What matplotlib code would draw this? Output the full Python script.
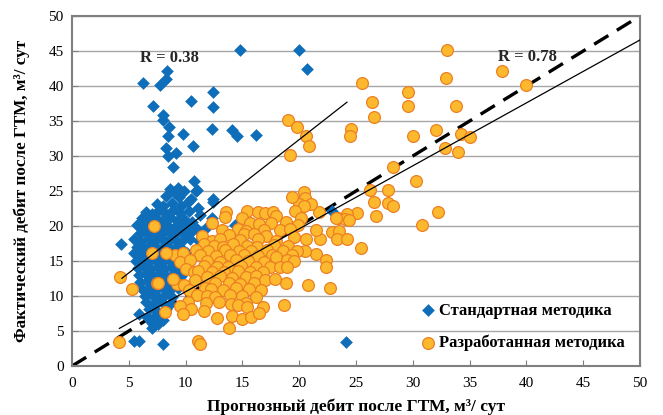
import numpy as np
import matplotlib
matplotlib.use('Agg')
import matplotlib.pyplot as plt

plt.rcParams['font.family'] = ['Liberation Serif', 'DejaVu Serif']

# "Стандартная методика" points (predicted, actual)
std_outliers = [(6.28,40.5),(7.75,40.1),(8.27,41.0),(8.39,42.2),(7.1,37.1),(8.04,35.8),(7.98,35.1),
                (8.54,34.1),(8.48,32.8),(9.8,33.1),(10.45,37.8),(12.44,39.1),(12.41,37.0),(12.35,33.8),
                (14.06,33.7),(14.55,32.8),(16.2,33.0),(14.79,45.1),(20.0,45.1),(20.66,42.4),(8.27,31.2),
                (9.15,30.5),(8.42,30.0),(10.68,31.5),(8.86,28.4),(22.9,22.1),(24.1,3.4),(14.35,20.1)]
std_core = [(8.6,25.3),(9.3,25.4),(9.9,25.0),(10.9,25.0),(10.7,26.5),(8.3,24.3),(9.4,24.2),(10.5,23.9),
            (12.4,23.8),(9.0,24.8),(11.0,25.1),(7.5,23.1),(8.0,22.8),(8.8,23.3),(9.6,22.9),(10.2,23.4),
            (11.1,22.6),(12.44,23.4),(6.5,22.0),(7.0,21.7),(7.6,22.2),(8.2,21.9),(8.9,22.3),(9.5,21.8),
            (10.3,22.1),(11.3,21.6),(6.2,21.1),(6.8,20.8),(7.4,21.2),(8.0,20.9),(8.6,21.3),(9.2,20.7),
            (9.9,21.0),(10.6,20.6),(12.3,21.1),(5.69,20.1),(6.3,19.9),(6.9,20.2),(7.8,19.8),(8.4,20.1),
            (9.0,19.7),(9.6,20.2),(10.2,19.9),(11.0,19.6),(11.86,19.9),(6.0,19.0),(6.6,18.8),(7.1,19.2),
            (7.7,18.9),(8.2,19.3),(8.8,18.7),(9.3,19.1),(9.9,18.8),(10.5,19.2),(5.5,18.1),(6.1,17.9),
            (6.7,18.2),(7.3,17.8),(7.8,18.3),(8.4,17.7),(9.0,18.1),(9.7,17.9),(10.4,18.2),(11.2,17.8),
            (4.3,17.5),(5.7,17.0),(6.3,16.8),(6.9,17.2),(7.5,16.9),(8.1,17.1),(8.7,16.7),(9.2,17.0),
            (9.8,16.6),(11.56,16.8),(5.5,16.1),(6.0,15.8),(6.6,16.2),(7.2,15.9),(7.8,16.0),(8.3,15.7),
            (8.9,16.3),(9.5,15.9),(10.1,16.1),(5.6,15.0),(6.2,15.2),(6.8,14.8),(7.4,15.1),(8.0,14.9),
            (8.6,15.2),(9.2,14.8),(9.8,15.1),(5.8,14.0),(6.3,14.2),(6.9,13.8),(7.5,14.1),(8.1,13.9),
            (8.7,14.2),(9.4,13.8),(5.9,13.0),(6.5,13.2),(7.1,12.8),(7.7,13.1),(8.3,12.9),(8.9,13.2),
            (9.6,12.8),(6.0,12.0),(6.6,12.2),(7.2,11.8),(7.8,12.1),(8.4,11.9),(9.0,12.1),(6.2,11.0),
            (6.8,11.2),(7.4,10.8),(8.0,11.1),(8.6,10.9),(9.3,11.2),(6.4,10.0),(7.0,10.2),(7.6,9.8),
            (8.2,10.1),(8.8,9.9),(6.5,9.1),(7.2,8.9),(7.9,9.2),(8.6,8.8),(6.8,8.1),(7.5,7.9),(8.3,8.2),
            (5.9,7.5),(6.6,7.0),(7.3,7.2),(8.0,6.6),(7.0,6.2),(7.6,6.0),(7.0,5.5),(5.5,3.6),(5.9,3.6),
            (8.0,3.1)]

# "Разработанная методика" points (predicted, actual)
dev_outliers = [(32.98,45.2),(37.85,42.1),(39.96,40.1),(32.9,41.1),(25.5,40.4),(29.6,39.1),(29.58,37.1),
                (33.8,37.1),(26.4,37.7),(26.6,35.6),(24.6,33.9),(24.5,32.8),(30.0,32.9),(32.0,33.7),
                (34.2,33.1),(35.0,32.7),(32.8,31.1),(34.0,30.6),(28.3,28.5),(30.3,26.5),(19.0,35.2),
                (19.8,34.2),(20.6,32.9),(20.9,31.5),(19.2,30.1),(4.2,12.7),(5.25,11.0),(4.1,3.4),
                (7.2,20.0),(7.0,16.2),(7.45,11.8),(7.6,11.9),(11.1,3.6),(11.3,3.2),(13.8,5.5),(8.2,7.7)]
dev_right = [(27.8,25.1),(26.2,25.1),(26.6,23.5),(27.8,23.3),(28.3,22.9),(32.2,22.0),(30.8,20.1),
             (26.8,21.4),(25.1,21.9),(24.2,21.7),(23.4,21.2),(24.0,21.0),(21.7,22.0),(20.4,24.9),
             (20.5,24.0),(20.0,23.2),(21.0,23.1),(19.4,24.1),(20.4,22.8),(23.2,21.1),(24.4,20.9),
             (22.9,19.2),(23.5,19.3),(23.3,18.1),(24.2,18.1),(21.8,18.1),(20.6,18.1),(21.5,16.0),
             (20.5,16.5),(22.4,15.2),(22.4,14.1),(22.7,11.2),(20.8,11.6),(18.8,11.8),(18.7,8.7),
             (21.5,19.5),(25.4,16.8)]
dev_core = [(13.6,22.0),(15.4,22.1),(16.4,22.0),(17.0,21.9),(17.7,22.0),(19.6,22.2),
            (13.5,21.3),(15.0,21.2),(18.0,21.4),(20.2,21.1),
            (12.3,20.4),(15.7,20.5),(16.5,20.3),(17.5,20.4),(18.8,20.6),(19.9,20.2),
            (13.2,19.5),(14.6,19.6),(15.3,19.3),(16.9,19.5),(18.3,19.4),(19.2,19.6),
            (11.4,18.6),(13.8,18.7),(15.1,18.8),(17.1,18.6),(19.5,18.5),(16.0,18.9),
            (12.3,17.9),(14.8,18.0),(16.4,18.1),(18.0,17.9),(13.0,18.2),
            (11.6,17.4),(12.5,17.2),(13.3,17.0),(14.2,17.4),(15.4,17.1),(16.3,17.0),(17.8,17.3),(19.0,17.2),
            (9.1,15.9),(10.9,16.6),(12.0,16.4),(13.5,16.6),(14.7,16.5),(15.8,16.4),(17.2,16.6),(18.6,16.5),(19.8,16.4),
            (8.3,16.1),(9.8,16.2),(11.3,15.8),(12.7,15.7),(13.9,15.9),(15.1,15.8),(16.4,15.7),(17.6,15.9),(18.0,15.6),(19.4,15.8),
            (9.5,14.9),(10.4,15.1),(11.9,15.0),(13.0,14.9),(14.4,15.1),(15.5,15.0),(16.9,14.9),(18.9,15.1),(19.5,15.0),
            (10.0,13.9),(11.6,14.3),(12.8,14.2),(13.7,14.1),(14.9,14.3),(16.2,14.2),(17.4,14.2),(18.3,14.2),(18.9,14.1),
            (10.7,13.5),(11.1,13.6),(12.3,13.4),(13.4,13.5),(14.6,13.6),(15.7,13.4),(16.8,13.5),
            (10.8,12.3),(11.9,12.7),(13.0,12.8),(14.1,12.6),(15.3,12.7),(16.2,12.8),(17.0,12.3),(17.9,12.5),
            (9.2,11.7),(8.9,12.4),(9.9,11.6),(11.7,11.1),(12.6,11.8),(13.8,11.9),(14.8,11.7),(16.0,11.8),
            (10.3,10.9),(12.2,11.0),(13.3,10.9),(14.4,11.1),(15.6,11.0),(16.6,10.9),
            (11.0,10.1),(11.9,10.0),(12.6,9.9),(13.9,10.1),(15.0,10.0),(16.2,9.9),
            (10.2,9.1),(11.8,9.0),(12.9,9.1),(14.0,8.9),(15.3,9.0),
            (9.5,8.6),(10.5,8.2),(14.6,8.7),(15.4,8.5),(16.8,8.4),
            (9.75,7.5),(11.6,7.8),(14.1,7.1),(15.0,6.7),(15.8,7.0),(16.5,7.6),(12.8,6.9)]

# trend lines: slope, intercept, x range
std_fit = (1.27, 6.95, 4.4, 24.2)
dev_fit = (0.899, 1.63, 4.17, 50)
r_labels = ['R = 0.38', 'R = 0.78']

std = np.array(std_outliers + std_core)
dev = np.array(dev_outliers + dev_right + dev_core)

fig = plt.figure(figsize=(6.63, 4.15), dpi=100)
ax = fig.add_axes([0.1086, 0.118, 0.8567, 0.8434])

ax.set_xlim(0, 50); ax.set_ylim(0, 50)
ax.set_xticks(range(0, 51, 5)); ax.set_yticks(range(0, 51, 5))
ax.yaxis.grid(True, color='#a6a6a6', lw=1)
ax.set_axisbelow(True)
for s in ax.spines.values():
    s.set_color('#7f7f7f'); s.set_linewidth(1.5)
ax.tick_params(direction='in', length=4, color='#7f7f7f', labelsize=11)
ax.tick_params(axis='x', pad=8)
ax.tick_params(axis='y', pad=6)

ax.plot([0, 50], [0, 50], color='black', lw=2.4, ls=(0, (5, 3)), zorder=2)
ax.scatter(std[:, 0], std[:, 1], marker='D', s=42, color='#0F6EB9', lw=0, zorder=3,
           label='Стандартная методика')
ax.scatter(dev[:, 0], dev[:, 1], marker='o', s=72, facecolor='#FDB92E', edgecolor='#EB7F22',
           lw=0.9, zorder=4, label='Разработанная методика')

for k, b, x0, x1 in [std_fit, dev_fit]:
    xs = np.array([x0, x1])
    ax.plot(xs, k * xs + b, color='black', lw=0.9, zorder=5)

ax.text(8.6, 44.0, r_labels[0], ha='center', va='center', fontsize=12, fontweight='bold', color='#262626')
ax.text(40.1, 44.1, r_labels[1], ha='center', va='center', fontsize=12, fontweight='bold', color='#262626')

ax.set_xlabel('Прогнозный дебит после ГТМ, м³/ сут', fontsize=12.5, fontweight='bold', labelpad=6)
ax.set_ylabel('Фактический дебит после ГТМ, м³/ сут', fontsize=12.3, fontweight='bold', labelpad=13)

leg = ax.legend(loc='lower right', bbox_to_anchor=(1.0, 0.0), frameon=False,
                prop={'weight': 'bold', 'size': 12}, labelspacing=0.95, handletextpad=0.1,
                handlelength=1.2, borderaxespad=0.5)

fig.savefig('out.png', dpi=100)
